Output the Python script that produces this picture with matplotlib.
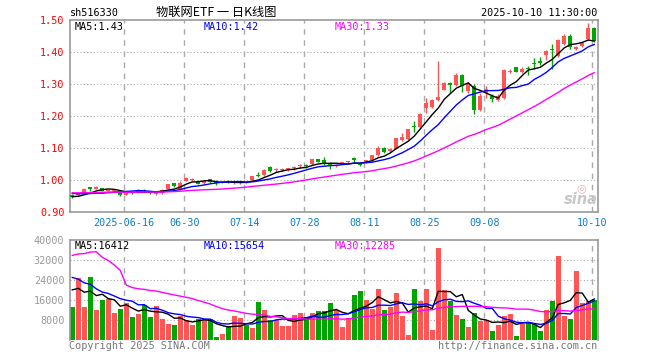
import numpy as np
import pandas as pd
import matplotlib
matplotlib.use("Agg")
import matplotlib.pyplot as plt

# ---------------- data ----------------
symbol = "sh516330"
title = "物联网ETF 一 日K线图"
timestamp = "2025-10-10 11:30:00"
holidays = ["2025-10-01", "2025-10-02", "2025-10-03", "2025-10-06", "2025-10-07", "2025-10-08"]
dates = pd.bdate_range("2025-06-03", "2025-10-10")
dates = dates[~dates.isin(pd.to_datetime(holidays))]

tick_dates = ["2025-06-16", "2025-06-30", "2025-07-14", "2025-07-28",
              "2025-08-11", "2025-08-25", "2025-09-08", "2025-10-10"]
tick_labels = ["2025-06-16", "06-30", "07-14", "07-28", "08-11", "08-25", "09-08", "10-10"]

open_ = [0.952, 0.951, 0.958, 0.974, 0.970, 0.973, 0.964, 0.965, 0.962, 0.953,
         0.960, 0.960, 0.967, 0.963, 0.955, 0.958, 0.972, 0.988, 0.972, 0.996,
         1.000, 0.996, 0.988, 1.002, 0.996, 0.990, 0.993, 0.988, 0.989, 0.992,
         0.998, 1.013, 1.013, 1.039, 1.029, 1.030, 1.032, 1.036, 1.043, 1.045,
         1.048, 1.063, 1.060, 1.052, 1.042, 1.052, 1.054, 1.067, 1.051, 1.055,
         1.060, 1.076, 1.098, 1.089, 1.097, 1.124, 1.126, 1.169, 1.166, 1.225,
         1.228, 1.248, 1.282, 1.303, 1.296, 1.329, 1.277, 1.292, 1.217, 1.272,
         1.263, 1.249, 1.256, 1.338, 1.353, 1.338, 1.348, 1.363, 1.370, 1.389,
         1.408, 1.388, 1.425, 1.451, 1.410, 1.420, 1.440, 1.475]
close = [0.945, 0.955, 0.972, 0.972, 0.978, 0.965, 0.966, 0.966, 0.953, 0.957,
         0.958, 0.968, 0.965, 0.958, 0.960, 0.968, 0.985, 0.980, 0.990, 1.006,
         1.002, 0.987, 0.996, 0.993, 0.988, 0.993, 0.992, 0.990, 0.991, 0.990,
         1.010, 1.012, 1.030, 1.027, 1.033, 1.032, 1.033, 1.038, 1.045, 1.043,
         1.063, 1.056, 1.048, 1.045, 1.044, 1.053, 1.055, 1.061, 1.045, 1.060,
         1.076, 1.100, 1.086, 1.095, 1.129, 1.134, 1.157, 1.166, 1.207, 1.241,
         1.249, 1.258, 1.303, 1.295, 1.327, 1.292, 1.298, 1.217, 1.263, 1.284,
         1.251, 1.262, 1.342, 1.341, 1.338, 1.348, 1.347, 1.362, 1.364, 1.404,
         1.406, 1.438, 1.451, 1.416, 1.416, 1.428, 1.475, 1.435]
high = [0.954, 0.957, 0.974, 0.977, 0.980, 0.974, 0.968, 0.970, 0.963, 0.959,
        0.962, 0.970, 0.970, 0.964, 0.961, 0.970, 0.987, 0.990, 0.994, 1.008,
        1.005, 0.998, 0.998, 1.003, 0.998, 0.996, 0.998, 0.992, 0.993, 0.994,
        1.011, 1.025, 1.032, 1.042, 1.035, 1.035, 1.037, 1.041, 1.048, 1.048,
        1.064, 1.064, 1.070, 1.055, 1.046, 1.055, 1.057, 1.070, 1.053, 1.062,
        1.078, 1.104, 1.102, 1.100, 1.131, 1.146, 1.160, 1.185, 1.210, 1.256,
        1.252, 1.373, 1.306, 1.306, 1.335, 1.331, 1.305, 1.300, 1.272, 1.292,
        1.268, 1.268, 1.345, 1.348, 1.354, 1.352, 1.357, 1.381, 1.383, 1.406,
        1.425, 1.440, 1.455, 1.455, 1.420, 1.432, 1.490, 1.478]
low = [0.942, 0.950, 0.957, 0.965, 0.969, 0.963, 0.962, 0.960, 0.948, 0.951,
       0.955, 0.958, 0.962, 0.955, 0.953, 0.956, 0.970, 0.976, 0.968, 0.994,
       0.995, 0.985, 0.985, 0.990, 0.982, 0.988, 0.988, 0.986, 0.987, 0.988,
       0.996, 1.008, 1.011, 1.025, 1.025, 1.026, 1.028, 1.031, 1.036, 1.037,
       1.046, 1.055, 1.046, 1.034, 1.040, 1.048, 1.051, 1.053, 1.042, 1.053,
       1.058, 1.074, 1.083, 1.087, 1.095, 1.122, 1.124, 1.149, 1.162, 1.209,
       1.225, 1.246, 1.280, 1.272, 1.294, 1.275, 1.272, 1.207, 1.214, 1.256,
       1.243, 1.246, 1.252, 1.335, 1.336, 1.333, 1.329, 1.345, 1.360, 1.375,
       1.345, 1.385, 1.422, 1.410, 1.405, 1.416, 1.438, 1.432]
volume = [13300, 25000, 13300, 25200, 12000, 16000, 16300, 10900, 12400, 14900,
          9200, 10400, 14000, 9200, 13600, 8400, 6400, 6000, 9700, 8000,
          6000, 8400, 8400, 8400, 1300, 2400, 5600, 9600, 8800, 6000,
          4900, 15200, 12000, 8000, 8000, 5600, 5600, 9900, 10900, 9200,
          10900, 11600, 11600, 14900, 12000, 5200, 8800, 18000, 19600, 16000,
          12500, 20400, 12000, 13300, 18800, 9600, 2000, 20400, 15600, 20400,
          4000, 36900, 20000, 15600, 10000, 8400, 5200, 10800, 7600, 8000,
          3600, 6000, 9600, 10400, 1600, 6400, 6800, 6400, 3600, 12000,
          15600, 33600, 9600, 8400, 27500, 14700, 15500, 16000]
# estimated sessions before the visible window (used only for moving averages)
prior_close = [0.955, 0.958, 0.962, 0.960, 0.957, 0.955, 0.958, 0.961, 0.963, 0.960,
               0.958, 0.956, 0.959, 0.962, 0.964, 0.961, 0.958, 0.957, 0.960, 0.962,
               0.966, 0.969, 0.970, 0.966, 0.964, 0.950, 0.948, 0.946, 0.944]
prior_volume = [8000, 9000, 7000, 8000, 82000, 55000, 65000, 78000, 190000, 40000,
                24000, 21000, 23000, 20000, 25000, 22000, 21000, 24000, 22000, 21000,
                32000, 28000, 31000, 30000, 29000, 22000, 21000, 23000, 21000]
price_ma_text = ["MA5:1.43", "MA10:1.42", "MA30:1.33"]
vol_ma_text = ["MA5:16412", "MA10:15654", "MA30:12285"]
price_ticks = [0.90, 1.00, 1.10, 1.20, 1.30, 1.40, 1.50]
vol_ticks = [8000, 16000, 24000, 32000, 40000]

# ---------------- derived ----------------
n = len(close)
x = np.arange(n)
o = np.array(open_); c = np.array(close); h = np.array(high); l = np.array(low)
v = np.array(volume, dtype=float)
cs = pd.Series(list(prior_close) + list(close))
vs = pd.Series(list(prior_volume) + list(volume), dtype=float)
k = len(prior_close)
ma = {p: cs.rolling(p, min_periods=1).mean().values[k:] for p in (5, 10, 30)}
vma = {p: vs.rolling(p, min_periods=1).mean().values[k:] for p in (5, 10, 30)}
ds = [d.strftime("%Y-%m-%d") for d in dates]
tick_idx = [ds.index(t) for t in tick_dates]

RED = "#ff5555"
GREEN = "#00a600"
ma_colors = {5: "black", 10: "#0000ff", 30: "#ff00ff"}
up = c >= o
colors = np.where(up, RED, GREEN)
FRAME = "#999999"
GRID = "#aaaaaa"
MONO = "DejaVu Sans Mono"

fig = plt.figure(figsize=(6.6, 3.6), dpi=100)
W, H = 660.0, 360.0
def axrect(x0, y0, x1, y1):
    return [x0 / W, 1 - y1 / H, (x1 - x0) / W, (y1 - y0) / H]

ax = fig.add_axes(axrect(70, 20, 597.7, 211.5))
axv = fig.add_axes(axrect(70, 240, 597.7, 340))
xlim = (-0.38, n - 0.43)
tick_pos = np.array(tick_idx) - 0.33

# ---- price panel ----
for yv in price_ticks[1:-1]:
    ax.axhline(yv, color=GRID, lw=0.8, ls=(0, (1, 2)), zorder=0)
for tp in tick_pos:
    ax.axvline(tp, color=GRID, lw=1.0, ls=(0, (4, 4)), zorder=0)
ax.vlines(x, l, h, colors=colors, lw=1.0, zorder=2)
body = np.maximum(np.abs(c - o), 0.0032)
ax.bar(x, body, bottom=np.minimum(o, c), width=0.72, color=colors, lw=0, zorder=3)
for p in (5, 10, 30):
    ax.plot(x, ma[p], color=ma_colors[p], lw=1.0, zorder=4)
ax.set_xlim(*xlim)
ax.set_ylim(0.90, 1.50)
ax.set_yticks(price_ticks)
ax.set_yticklabels([f"{t:.2f}" for t in price_ticks], color="#ff0000", fontsize=7.3, family=MONO)
ax.set_xticks(tick_pos)
ax.set_xticklabels(tick_labels, color="#0a7fd0", fontsize=7.3, family=MONO)
ax.tick_params(length=0, pad=4)
ax.tick_params(axis="x", pad=5)
for s in ax.spines.values():
    s.set_color(FRAME); s.set_linewidth(1.2)

ax.text(75 / W, 1 - 27 / H, price_ma_text[0], transform=fig.transFigure, color="black",
        fontsize=7.3, family=MONO, va="center")
ax.text(204 / W, 1 - 27 / H, price_ma_text[1], transform=fig.transFigure, color="#0000ff",
        fontsize=7.3, family=MONO, va="center")
ax.text(335 / W, 1 - 27 / H, price_ma_text[2], transform=fig.transFigure, color="#ff00ff",
        fontsize=7.3, family=MONO, va="center")

# ---- volume panel ----
for yv in vol_ticks[:-1]:
    axv.axhline(yv, color=GRID, lw=0.8, ls=(0, (1, 2)), zorder=0)
for tp in tick_pos:
    axv.axvline(tp, color=GRID, lw=1.0, ls=(0, (4, 4)), zorder=0)
axv.bar(x, v, width=0.82, color=colors, lw=0, zorder=2)
for p in (5, 10, 30):
    axv.plot(x, vma[p], color=ma_colors[p], lw=1.0, zorder=4)
axv.set_xlim(*xlim)
axv.set_ylim(0, 40000)
axv.set_yticks(vol_ticks)
axv.set_yticklabels([str(t) for t in vol_ticks], color="#999999", fontsize=7.3, family=MONO)
axv.set_xticks([])
axv.tick_params(length=0, pad=4)
for s in axv.spines.values():
    s.set_color(FRAME); s.set_linewidth(1.2)
axv.spines["bottom"].set_visible(False)

fig.text(75 / W, 1 - 246 / H, vol_ma_text[0], color="black", fontsize=7.3, family=MONO, va="center")
fig.text(204 / W, 1 - 246 / H, vol_ma_text[1], color="#0000ff", fontsize=7.3, family=MONO, va="center")
fig.text(335 / W, 1 - 246 / H, vol_ma_text[2], color="#ff00ff", fontsize=7.3, family=MONO, va="center")

# ---- header / footer ----
fig.text(70 / W, 1 - 13 / H, symbol, color="black", fontsize=7.3, family=MONO, va="center")
fig.text(216 / W, 1 - 12 / H, title, color="black", fontsize=8.8, ha="center", va="center",
         family=["Noto Sans CJK SC", "DejaVu Sans"])
fig.text(597 / W, 1 - 13 / H, timestamp, color="black", fontsize=7.3, family=MONO,
         ha="right", va="center")
fig.text(69 / W, 1 - 346 / H, "Copyright 2025 SINA.COM", color="#777777", fontsize=7.3,
         family=MONO, va="center")
fig.text(597 / W, 1 - 346 / H, "http://finance.sina.com.cn", color="#777777", fontsize=7.3,
         family=MONO, ha="right", va="center")
# sina watermark
fig.text(598 / W, 1 - 199 / H, "sina", color="#c8c8c8", fontsize=10.5, style="italic",
         weight="bold", ha="right", va="center", family="DejaVu Sans")
fig.text(581 / W, 1 - 188 / H, "◎", color="#f2b0b0", fontsize=8, ha="center", va="center",
         family="DejaVu Sans")

fig.savefig("out.png", dpi=100)
